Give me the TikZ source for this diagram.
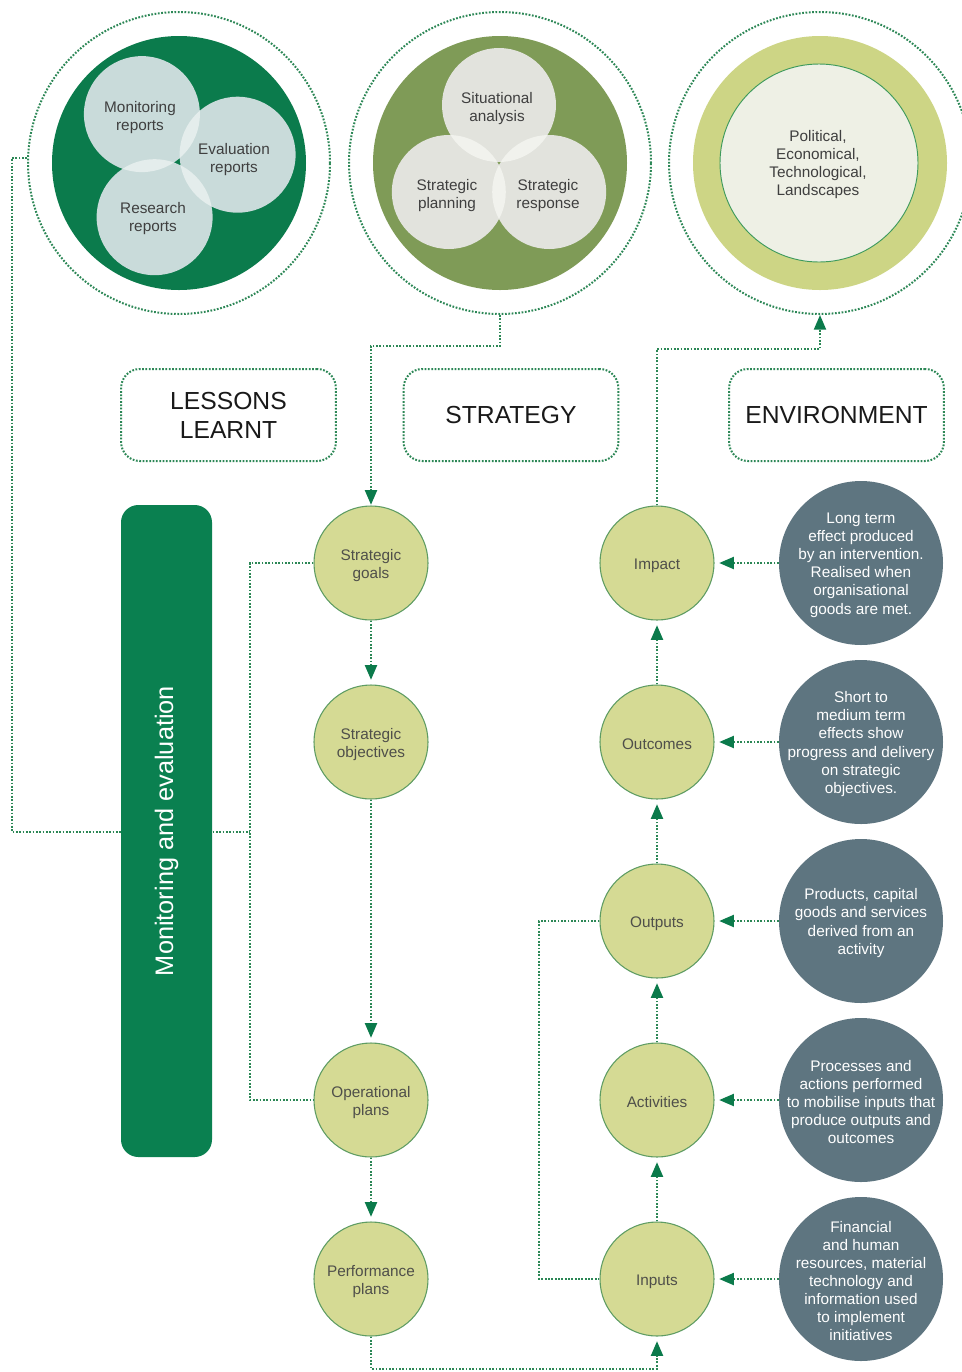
\documentclass[tikz,border=0pt]{standalone}
\usepackage{fontspec}
\setmainfont{Liberation Sans}
\usetikzlibrary{arrows.meta}

\definecolor{deepgreen}{HTML}{0B7B4C}
\definecolor{bargreen}{HTML}{0A8050}
\definecolor{dotgreen}{HTML}{2C8756}
\definecolor{tipgreen}{HTML}{0B7A4B}
\definecolor{mistblue}{HTML}{C9DBDA}
\definecolor{mistlens}{HTML}{E4EDEC}
\definecolor{olivegreen}{HTML}{7F9B57}
\definecolor{paleash}{HTML}{E2E3DD}
\definecolor{paleashlens}{HTML}{F1F2ED}
\definecolor{ringlime}{HTML}{CDD585}
\definecolor{ringcore}{HTML}{EEF0E5}
\definecolor{ringedge}{HTML}{3E9A5C}
\definecolor{stagefill}{HTML}{D5DA94}
\definecolor{stageedge}{HTML}{5E9C63}
\definecolor{stagetextc}{HTML}{4F4F4A}
\definecolor{slate}{HTML}{5E7580}
\definecolor{venngray}{HTML}{3F3F3F}

\begin{document}
\begin{tikzpicture}[x=0.75pt,y=-0.75pt,
  dotline/.style={draw=dotgreen,line width=1.5pt,dash pattern=on 1.3pt off 1.2pt},
  tip/.style={-{Triangle[length=11pt,width=9pt,color=tipgreen]},shorten >=3.5pt},
  ring/.style={circle,minimum size=226.5pt,inner sep=0pt,dotline},
  stage/.style={circle,minimum size=85.5pt,inner sep=0pt,fill=stagefill,draw=stageedge,line width=0.8pt},
  stagetext/.style={text=stagetextc,align=center,inner sep=0pt,yshift=-1.8pt,font=\fontsize{11.5}{13.5}\selectfont},
  note/.style={circle,minimum size=123pt,inner sep=0pt,fill=slate},
  notetext/.style={text=white,align=center,inner sep=0pt,yshift=-1.5pt,font=\fontsize{11.5}{13.6}\selectfont},
  venntext/.style={text=venngray,align=center,inner sep=0pt,yshift=-1.8pt,font=\fontsize{11.5}{13.5}\selectfont},
  heading/.style={dotline,rounded corners=14pt,minimum width=161pt,minimum height=69pt,
    align=center,text=black!90,font=\fontsize{18.5}{21.75}\selectfont},
]
\fill[white] (0,0) rectangle (962,1372);
\useasboundingbox (0,0) rectangle (962,1372);

% ---- lessons learnt: three report circles
\fill[deepgreen] (179,163) circle[radius=127];
\fill[mistblue] (141.9,114.1) circle[radius=58] (237.6,154.7) circle[radius=58] (154.6,217.2) circle[radius=58];
\begin{scope}
  \clip (141.9,114.1) circle[radius=58];
  \fill[mistlens] (237.6,154.7) circle[radius=58] (154.6,217.2) circle[radius=58];
\end{scope}
\begin{scope}
  \clip (237.6,154.7) circle[radius=58];
  \fill[mistlens] (154.6,217.2) circle[radius=58];
\end{scope}
\node[venntext] (mrep) at (140,115) {Monitoring\\reports};
\node[venntext] (erep) at (234,157) {Evaluation\\reports};
\node[venntext] (rrep) at (153,216) {Research\\reports};

% ---- strategy: three planning circles
\fill[olivegreen] (500,163) circle[radius=127];
\fill[paleash] (499,105) circle[radius=57] (448.8,192) circle[radius=57] (549.2,192) circle[radius=57];
\begin{scope}
  \clip (499,105) circle[radius=57];
  \fill[paleashlens] (448.8,192) circle[radius=57] (549.2,192) circle[radius=57];
\end{scope}
\begin{scope}
  \clip (448.8,192) circle[radius=57];
  \fill[paleashlens] (549.2,192) circle[radius=57];
\end{scope}
\node[venntext] (sit) at (497,106) {Situational\\analysis};
\node[venntext] (plan) at (447,193) {Strategic\\planning};
\node[venntext] (resp) at (548,193) {Strategic\\response};

% ---- environment ring
\fill[ringlime] (820,163) circle[radius=127];
\filldraw[fill=ringcore,draw=ringedge,line width=0.7pt] (819,163) circle[radius=99];
\node[venntext] (pest) at (818,162) {Political,\\Economical,\\Technological,\\Landscapes};

% ---- dotted outer rings
\node[ring] (lessonsring) at (179,163) {};
\node[ring] (strategyring) at (500,163) {};
\node[ring] (envring) at (820,163) {};

% ---- headings
\node[heading] (lessons) at (228.5,415) {LESSONS\\LEARNT};
\node[heading] (strategy) at (511,415) {STRATEGY};
\node[heading] (environment) at (836.5,415) {ENVIRONMENT};

% ---- stage circles
\node[stage] (goals) at (371,563) {};
\node[stage] (objs) at (371,742) {};
\node[stage] (oper) at (371,1100) {};
\node[stage] (perf) at (371,1279) {};
\node[stage] (impact) at (657,563) {};
\node[stage] (outcomes) at (657,742) {};
\node[stage] (outputs) at (657,921) {};
\node[stage] (activities) at (657,1100) {};
\node[stage] (inputs) at (657,1279) {};
\node[stagetext] (tgoals) at (goals) {Strategic\\goals};
\node[stagetext] (tobjs) at (objs) {Strategic\\objectives};
\node[stagetext] (toper) at (oper) {Operational\\plans};
\node[stagetext] (tperf) at (perf) {Performance\\plans};
\node[stagetext] (timp) at (impact) {Impact};
\node[stagetext] (tout) at (outcomes) {Outcomes};
\node[stagetext] (toutp) at (outputs) {Outputs};
\node[stagetext] (tact) at (activities) {Activities};
\node[stagetext] (tinp) at (inputs) {Inputs};

% ---- description circles
\node[note] (nimpact) at (861,563) {};
\node[note] (noutcomes) at (861,742) {};
\node[note] (noutputs) at (861,921) {};
\node[note] (nactivities) at (861,1100) {};
\node[note] (ninputs) at (861,1279) {};
\node[notetext] (timpact) at (nimpact) {Long term\\effect produced\\by an intervention.\\Realised when\\organisational\\goods are met.};
\node[notetext] (toutcomes) at (noutcomes) {Short to\\medium term\\effects show\\progress and delivery\\on strategic\\objectives.};
\node[notetext] (toutputs) at (noutputs) {Products, capital\\goods and services\\derived from an\\activity};
\node[notetext] (tactivities) at (nactivities) {Processes and\\actions performed\\to mobilise inputs that\\produce outputs and\\outcomes};
\node[notetext] (tinputs) at (ninputs) {Financial\\and human\\resources, material\\technology and\\information used\\to implement\\initiatives};

% ---- lessons-learnt feedback loop (runs behind the bar)
\coordinate (loopleft) at (12,832);
\coordinate (loopjoin) at (250,832);
\draw[dotline] (lessonsring.178) -| (loopleft) -- (loopjoin);
\draw[dotline] (goals.west) -| (loopjoin) |- (oper.west);

% ---- monitoring and evaluation bar
\node[fill=bargreen,rounded corners=13pt,rotate=90,minimum width=489pt,minimum height=68.25pt,
  text=white,font=\fontsize{19}{22}\selectfont] (mebar) at (166.5,831) {Monitoring and evaluation};

% ---- strategy chain
\draw[dotline,tip,shorten >=0.5pt] (strategyring.south) -- ++(0,31) -| (goals.north);
\draw[dotline,tip] (goals.south) -- (objs.north);
\draw[dotline,tip] (objs.south) -- (oper.north);
\draw[dotline,tip] (oper.south) -- (perf.north);
\draw[dotline,tip] (perf.south) -- ++(0,32) -| (inputs.south);

% ---- results chain
\draw[dotline,tip] (inputs.north) -- (activities.south);
\draw[dotline,tip] (activities.north) -- (outputs.south);
\draw[dotline,tip] (outputs.north) -- (outcomes.south);
\draw[dotline,tip] (outcomes.north) -- (impact.south);
\coordinate (envturn) at (657,349);
\draw[dotline,tip,shorten >=0pt] (impact.north) -- (envturn) -| (envring.south);
\draw[dotline] (outputs.west) -- ++(-60,0) |- (inputs.west);

% ---- descriptions feeding the results chain
\draw[dotline,tip] (nimpact.west) -- (impact.east);
\draw[dotline,tip] (noutcomes.west) -- (outcomes.east);
\draw[dotline,tip] (noutputs.west) -- (outputs.east);
\draw[dotline,tip] (nactivities.west) -- (activities.east);
\draw[dotline,tip] (ninputs.west) -- (inputs.east);
\end{tikzpicture}
\end{document}
